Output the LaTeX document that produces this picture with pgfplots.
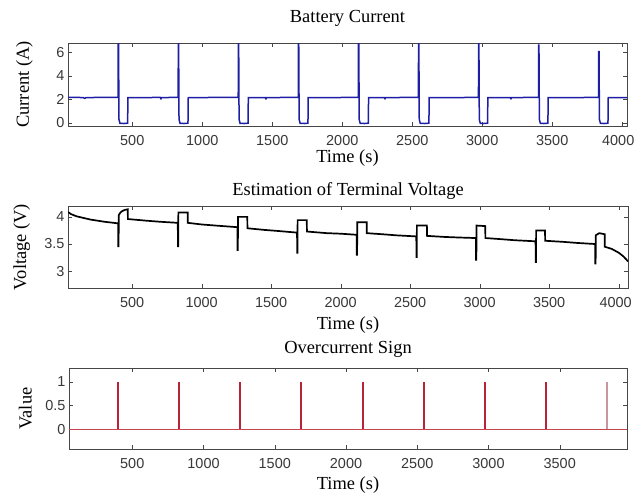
\documentclass[border=0pt]{standalone}
\usepackage{fontspec}
\setmainfont{Liberation Serif}
\newfontfamily\ticksf{Liberation Sans}
\usepackage{pgfplots}
\pgfplotsset{compat=1.18}
\definecolor{curblue}{RGB}{30,30,165}
\definecolor{ocred}{RGB}{185,35,55}
\definecolor{ocpink}{RGB}{200,150,160}
\definecolor{ocbase}{RGB}{195,70,80}
\definecolor{framegray}{RGB}{70,70,70}
\pgfplotsset{
  mystyle/.style={
    scale only axis,
    anchor=south west,
    axis line style={framegray},
    tick style={framegray},
    tick align=inside,
    tick pos=both,
    major tick length=4bp,
    /pgf/number format/assume math mode=true,
    /pgf/number format/1000 sep={},
    tick label style={font=\ticksf\fontsize{14.5}{15}\selectfont, text=black!78},
    xticklabel style={anchor=center, yshift=-15bp},
    label style={font=\fontsize{18.5}{20}\selectfont},
    title style={font=\fontsize{18.5}{20}\selectfont, at={(axis description cs:0.5,1)}, anchor=base},
    xlabel={Time (s)},
  }
}
\begin{document}
\begin{tikzpicture}
\path[use as bounding box] (0,0) rectangle (636bp,-493bp);

% ---------- Battery current ----------
\begin{axis}[mystyle,
  at={(68bp,-126bp)}, width=559bp, height=83bp,
  xmin=41, xmax=4034, ymin=-0.26, ymax=6.77,
  xtick={500,1000,1500,2000,2500,3000,3500,4000},
  xticklabels={500,1000,1500,2000,2500,3000,3500,{\makebox[0pt]{\hspace*{-8bp}4000}}},
  ytick={0,2,4,6},
  title={Battery Current}, title style={yshift=15bp},
  ylabel={Current (A)}, ylabel style={at={(axis description cs:-0.0698,0.5)}, anchor=base},
  xlabel style={at={(axis description cs:0.5,0)}, anchor=base, yshift=-36bp},
]
\addplot[curblue, line width=1.5bp] coordinates {
(41,2.17) (150,2.15) (160,2.08) (170,2.15) (300,2.16) (399,2.16)
(400,7) (402,7) (405,0.3) (412,-0.03) (440,-0.05) (467,-0.02) (469,2.15)
(600,2.15) (700,2.16) (705,2.05) (710,2.15) (828,2.16)
(829,7) (831,7) (834,0.3) (841,-0.03) (870,-0.05) (898,-0.02) (900,2.15)
(1000,2.15) (1100,2.16) (1257,2.16)
(1258,7) (1260,7) (1263,0.3) (1270,-0.03) (1300,-0.05) (1327,-0.02) (1329,2.15)
(1450,2.15) (1455,2.05) (1460,2.15) (1686,2.16)
(1687,7) (1689,7) (1692,0.3) (1699,-0.03) (1730,-0.05) (1755,-0.02) (1757,2.15)
(1900,2.15) (2115,2.16)
(2116,7) (2118,7) (2121,0.3) (2128,-0.03) (2160,-0.05) (2186,-0.02) (2188,2.15)
(2300,2.15) (2305,2.06) (2310,2.15) (2544,2.16)
(2545,7) (2547,7) (2550,0.3) (2557,-0.03) (2590,-0.05) (2619,-0.02) (2621,2.15)
(2800,2.15) (2973,2.16)
(2974,7) (2976,7) (2979,0.3) (2986,-0.03) (3010,-0.05) (3038,-0.02) (3040,2.15)
(3200,2.15) (3205,2.06) (3210,2.15) (3402,2.16)
(3403,6.6) (3405,6.6) (3408,0.3) (3415,-0.03) (3440,-0.05) (3469,-0.02) (3471,2.15)
(3650,2.15) (3831,2.16)
(3832,6.05) (3834,6.05) (3837,0.3) (3844,-0.03) (3870,-0.05) (3898,-0.02) (3900,2.15)
(4034,2.15)
};
\end{axis}

% ---------- Terminal voltage ----------
\begin{axis}[mystyle,
  at={(68bp,-288bp)}, width=560bp, height=82bp,
  xmin=38, xmax=4067, ymin=2.69, ymax=4.2,
  xtick={500,1000,1500,2000,2500,3000,3500,4000},
  xticklabels={500,1000,1500,2000,2500,3000,3500,{\makebox[0pt]{\hspace*{-6bp}4000}}},
  ytick={3,3.5,4},
  title={Estimation of Terminal Voltage}, title style={yshift=5bp},
  ylabel={Voltage (V)}, ylabel style={at={(axis description cs:-0.075,0.5)}, anchor=base},
  xlabel style={at={(axis description cs:0.5,0)}, anchor=base, yshift=-41bp},
]
\addplot[black, line width=1.7bp] coordinates {
(38,4.09) (60,4.05) (100,4.01) (150,3.98) (200,3.95) (250,3.93) (300,3.91) (350,3.895) (399,3.88)
(400,3.46) (402,3.46) (403,4.03) (415,4.08) (430,4.11) (450,4.13) (468,4.14) (469,3.96)
(600,3.93) (700,3.91) (828,3.89)
(829,3.46) (831,3.46) (832,4.08) (899,4.08) (900,3.89)
(1000,3.86) (1100,3.84) (1257,3.81)
(1258,3.39) (1260,3.39) (1261,4.0) (1328,4.0) (1329,3.79)
(1450,3.76) (1550,3.74) (1686,3.71)
(1687,3.34) (1689,3.34) (1690,3.94) (1756,3.94) (1757,3.73)
(1900,3.70) (2000,3.69) (2115,3.67)
(2116,3.30) (2118,3.30) (2119,3.90) (2187,3.90) (2188,3.70)
(2300,3.68) (2400,3.66) (2544,3.64)
(2545,3.26) (2547,3.26) (2548,3.84) (2620,3.84) (2621,3.65)
(2750,3.63) (2850,3.62) (2973,3.61)
(2974,3.21) (2976,3.21) (2977,3.84) (3040,3.83) (3041,3.61)
(3150,3.59) (3250,3.57) (3402,3.55)
(3403,3.17) (3405,3.17) (3406,3.75) (3470,3.75) (3471,3.56)
(3600,3.54) (3700,3.52) (3831,3.50)
(3832,3.14) (3834,3.14) (3835,3.66) (3860,3.70) (3899,3.68) (3900,3.45)
(3950,3.41) (4000,3.34) (4035,3.27) (4067,3.18)
};
\end{axis}

% ---------- Overcurrent sign ----------
\begin{axis}[mystyle,
  at={(69bp,-449bp)}, width=558bp, height=81bp,
  xmin=56, xmax=3972, ymin=-0.42, ymax=1.29,
  xtick={500,1000,...,3500}, ytick={0,0.5,1},
  title={Overcurrent Sign}, title style={yshift=9bp},
  ylabel={Value}, ylabel style={at={(axis description cs:-0.067,0.5)}, anchor=base},
  xlabel style={at={(axis description cs:0.5,0)}, anchor=base, yshift=-40bp},
  unbounded coords=jump,
]
\addplot[ocbase, line width=0.9bp] coordinates {(56,0) (3972,0)};
\addplot[ocred, line width=2bp] coordinates {
(400,0) (400,1) (600,nan)
(829,0) (829,1) (1000,nan)
(1258,0) (1258,1) (1400,nan)
(1687,0) (1687,1) (1800,nan)
(2116,0) (2116,1) (2300,nan)
(2545,0) (2545,1) (2700,nan)
(2974,0) (2974,1) (3100,nan)
(3403,0) (3403,1)
};
\addplot[ocpink, line width=1.6bp] coordinates {(3832,0) (3832,1)};
\end{axis}
\end{tikzpicture}
\end{document}
